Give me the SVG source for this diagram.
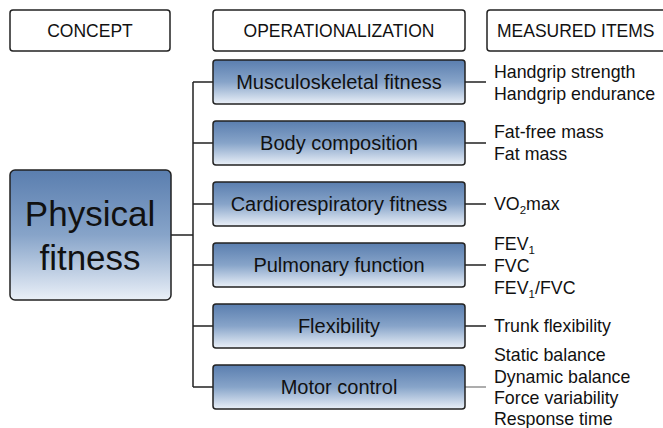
<svg xmlns="http://www.w3.org/2000/svg" width="663" height="428" viewBox="0 0 663 428">
<defs>
<linearGradient id="g" x1="0" y1="0" x2="0" y2="1">
<stop offset="0" stop-color="#5a7eaf"/>
<stop offset="0.5" stop-color="#87a4c9"/>
<stop offset="1" stop-color="#eaf0f8"/>
</linearGradient>
</defs>
<style>
.hdr{fill:#fff;stroke:#222;stroke-width:1.5}
.box{fill:url(#g);stroke:#222;stroke-width:1.5}
.t{font-family:"Liberation Sans",Arial,sans-serif;fill:#111}
.h{font-size:17.5px;text-anchor:middle}
.m{font-size:20px;text-anchor:middle}
.r{font-size:17.8px}
.c{stroke:#222;stroke-width:1.5;fill:none}
</style>
<g id="headers">
<g id="h-concept"><rect class="hdr" x="10" y="10" width="160" height="41" rx="3"/><text class="t h" x="90" y="37">CONCEPT</text></g>
<g id="h-oper"><rect class="hdr" x="213" y="10" width="252" height="41" rx="3"/><text class="t h" x="339" y="37">OPERATIONALIZATION</text></g>
<g id="h-meas"><rect class="hdr" x="487" y="10" width="190" height="41" rx="3"/><text class="t" x="497" y="37" font-size="17.5">MEASURED ITEMS</text></g>
</g>
<g id="connectors">
<path class="c" d="M171 235H193M193 82V387M193 82H213M193 143H213M193 204H213M193 265H213M193 326H213M193 387H213"/>
<path class="c" d="M465 82H486M465 143H486M465 204H486M465 265H486M465 326H486"/>
<path d="M465 387H486" stroke="#777" stroke-width="1.2"/>
</g>
<g id="physical-fitness"><rect class="box" x="10" y="170" width="161" height="130" rx="5"/><text class="t" x="90" y="226" font-size="35" text-anchor="middle">Physical</text><text class="t" x="90" y="270" font-size="35" text-anchor="middle">fitness</text></g>
<g id="n1"><rect class="box" x="213" y="60" width="252" height="44" rx="3"/><text class="t m" x="339" y="89">Musculoskeletal fitness</text></g>
<g id="n2"><rect class="box" x="213" y="121" width="252" height="44" rx="3"/><text class="t m" x="339" y="150">Body composition</text></g>
<g id="n3"><rect class="box" x="213" y="182" width="252" height="44" rx="3"/><text class="t m" x="339" y="211">Cardiorespiratory fitness</text></g>
<g id="n4"><rect class="box" x="213" y="243" width="252" height="44" rx="3"/><text class="t m" x="339" y="272">Pulmonary function</text></g>
<g id="n5"><rect class="box" x="213" y="304" width="252" height="44" rx="3"/><text class="t m" x="339" y="333">Flexibility</text></g>
<g id="n6"><rect class="box" x="213" y="365" width="252" height="44" rx="3"/><text class="t m" x="339" y="394">Motor control</text></g>
<g id="items">
<text class="t r" x="494" y="78">Handgrip strength</text>
<text class="t r" x="494" y="100">Handgrip endurance</text>
<text class="t r" x="494" y="138">Fat-free mass</text>
<text class="t r" x="494" y="160">Fat mass</text>
<text class="t r" x="494" y="210">VO<tspan font-size="11.5" dy="4">2</tspan><tspan dy="-4">max</tspan></text>
<text class="t r" x="494" y="250">FEV<tspan font-size="11.5" dy="4">1</tspan></text>
<text class="t r" x="494" y="272">FVC</text>
<text class="t r" x="494" y="294">FEV<tspan font-size="11.5" dy="4">1</tspan><tspan dy="-4">/FVC</tspan></text>
<text class="t r" x="494" y="332">Trunk flexibility</text>
<text class="t r" x="494" y="361">Static balance</text>
<text class="t r" x="494" y="383">Dynamic balance</text>
<text class="t r" x="494" y="404">Force variability</text>
<text class="t r" x="494" y="425">Response time</text>
</g>
</svg>
